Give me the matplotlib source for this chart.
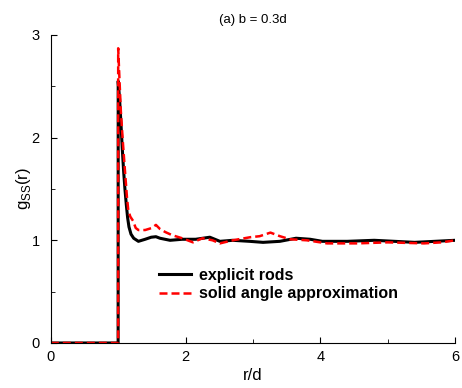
import matplotlib.pyplot as plt
from matplotlib.ticker import MultipleLocator

plt.rcParams['font.family'] = ['Liberation Sans', 'DejaVu Sans']

# explicit rods
r_rods = [0.0, 0.999, 1.0, 1.02, 1.04, 1.06, 1.08, 1.1, 1.12, 1.14, 1.16, 1.19, 1.23,
          1.3, 1.4, 1.49, 1.56, 1.62, 1.77, 1.95, 2.15, 2.36, 2.51, 2.7, 2.95, 3.15, 3.4,
          3.64, 3.85, 4.03, 4.4, 4.8, 5.1, 5.4, 5.7, 6.0]
g_rods = [0.0, 0.0, 2.55, 2.38, 2.15, 1.9, 1.68, 1.5, 1.35, 1.22, 1.13, 1.06, 1.02,
          0.99, 1.01, 1.03, 1.035, 1.02, 1.0, 1.01, 1.01, 1.03, 0.99, 1.0, 0.99, 0.98, 0.99,
          1.02, 1.01, 0.99, 0.99, 1.0, 0.99, 0.98, 0.99, 1.0]

# solid angle approximation
r_sa = [0.0, 0.999, 1.0, 1.02, 1.04, 1.07, 1.1, 1.13, 1.15, 1.18, 1.22, 1.26, 1.3,
        1.4, 1.5, 1.56, 1.62, 1.7, 1.8, 1.95, 2.11, 2.25, 2.4, 2.51, 2.7, 2.96, 3.1,
        3.26, 3.4, 3.55, 3.8, 4.1, 4.55, 5.0, 5.54, 5.8, 6.0]
g_sa = [0.0, 0.0, 2.87, 2.55, 2.25, 1.95, 1.68, 1.42, 1.29, 1.23, 1.19, 1.12, 1.1,
        1.1, 1.12, 1.15, 1.11, 1.08, 1.05, 1.02, 0.98, 1.02, 1.0, 0.97, 1.0, 1.03, 1.04,
        1.075, 1.04, 1.01, 1.0, 0.97, 0.97, 0.98, 0.97, 0.98, 1.0]

fig = plt.figure(figsize=(4.62, 3.88), dpi=100)
ax = fig.add_axes([0.110, 0.116, 0.875, 0.794])

ax.plot(r_rods, g_rods, color='black', lw=2.2, label='explicit rods')
ax.plot(r_sa, g_sa, color='red', lw=1.8, ls=(0, (3.2, 1.6)), label='solid angle approximation')

ax.set_xlim(0, 6)
ax.set_ylim(0, 3)
ax.xaxis.set_major_locator(MultipleLocator(2))
ax.xaxis.set_minor_locator(MultipleLocator(1))
ax.yaxis.set_major_locator(MultipleLocator(1))
ax.yaxis.set_minor_locator(MultipleLocator(0.5))
ax.tick_params(which='both', direction='in', labelsize=10.5, top=False, right=False)
ax.tick_params(which='major', length=4)
ax.tick_params(which='minor', length=3)
ax.tick_params(axis='x', pad=5)
ax.tick_params(axis='y', pad=8)
for side in ['top', 'right']:
    ax.spines[side].set_visible(False)

ax.set_xlabel('r/d', fontsize=12)
ax.xaxis.set_label_coords(0.5, -0.082)
ax.set_ylabel(r'g$_{\mathregular{SS}}$(r)', fontsize=12)
ax.yaxis.set_label_coords(-0.045, 0.5)
fig.text(253 / 462, 1 - 20.5 / 388, '(a) b = 0.3d', fontsize=9.5, ha='center', va='center')

ax.legend(loc='upper left', bbox_to_anchor=(159 / 462, 1 - 268 / 388),
          bbox_transform=fig.transFigure, frameon=False, borderpad=0, borderaxespad=0,
          prop={'weight': 'bold', 'size': 11.5}, handlelength=2.0, handletextpad=0.5,
          labelspacing=0.2)

fig.savefig('out.png', dpi=100)
